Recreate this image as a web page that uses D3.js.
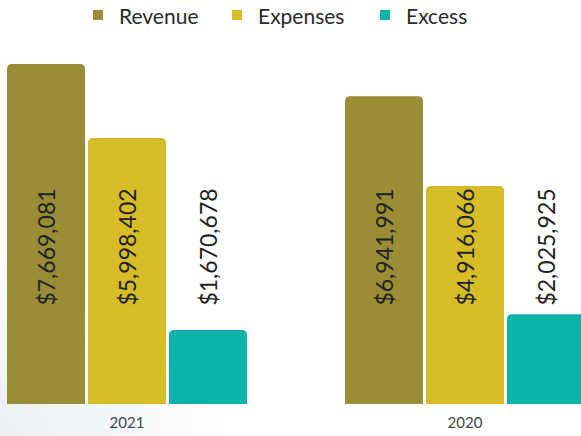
<!DOCTYPE html>
<html>
<head>
<meta charset="utf-8">
<script src="https://cdn.jsdelivr.net/npm/d3@7"></script>
<style>
  html, body { margin: 0; padding: 0; background: #fff; }
  svg { display: block; }
</style>
</head>
<body>
<svg id="chart" width="581" height="436"></svg>
<script>
// Financial summary by fiscal year
const years = ["2021", "2020"];
const seriesNames = ["Revenue", "Expenses", "Excess"];
const revenue = [7669081, 6941991];
const expenses = [5998402, 4916066];
const excess = [1670678, 2025925];
const seriesColors = ["#9b8d35", "#d6bc27", "#0db3a9"];

const values = { Revenue: revenue, Expenses: expenses, Excess: excess };
const rows = years.map((y, i) => ({
  year: y,
  items: seriesNames.map(s => ({ series: s, value: values[s][i] }))
}));

const W = 581, H = 436;
const svg = d3.select("#chart");

// soft tinted backdrop in the lower-left corner
const defs = svg.append("defs");
const grad = defs.append("radialGradient")
  .attr("id", "bgTint").attr("cx", "0%").attr("cy", "100%").attr("r", "40%");
grad.append("stop").attr("offset", "0%").attr("stop-color", "#e9eff3");
grad.append("stop").attr("offset", "100%").attr("stop-color", "#ffffff");
svg.append("rect").attr("width", W).attr("height", H).attr("fill", "url(#bgTint)");

const x0 = d3.scaleBand().domain(years).range([7, 585]).paddingInner(0.29).paddingOuter(0);
const x1 = d3.scaleBand().domain(seriesNames).range([0, x0.bandwidth()]).paddingInner(0.037);
const y = d3.scaleLinear().domain([0, d3.max(revenue)]).range([404, 64]);
const color = d3.scaleOrdinal().domain(seriesNames).range(seriesColors);

// bar with rounded top corners
function topRounded(x, yTop, w, yBase, r) {
  r = Math.min(r, w / 2, (yBase - yTop));
  return `M${x},${yBase}V${yTop + r}Q${x},${yTop} ${x + r},${yTop}` +
         `H${x + w - r}Q${x + w},${yTop} ${x + w},${yTop + r}V${yBase}Z`;
}

const groups = svg.append("g").selectAll("g")
  .data(rows).join("g")
  .attr("transform", d => `translate(${x0(d.year)},0)`);

groups.selectAll("path")
  .data(d => d.items).join("path")
  .attr("d", d => topRounded(x1(d.series), y(d.value), x1.bandwidth(), y(0), 5))
  .attr("fill", d => color(d.series));

const fmt = d3.format("$,");
groups.selectAll("text")
  .data(d => d.items).join("text")
  .attr("transform", d => `translate(${x1(d.series) + x1.bandwidth() / 2},247) rotate(-90)`)
  .attr("text-anchor", "middle")
  .attr("dominant-baseline", "central")
  .attr("font-family", "Lato, sans-serif")
  .attr("font-size", 23)
  .attr("fill", "#222")
  .text(d => fmt(d.value));

// category axis
const axis = svg.append("g")
  .attr("transform", "translate(0,409)")
  .call(d3.axisBottom(x0).tickSize(0).tickPadding(8));
axis.select(".domain").remove();
axis.selectAll("text")
  .attr("font-family", "Lato, sans-serif")
  .attr("font-size", 15)
  .attr("fill", "#444");

// legend
const legendX = [93, 232, 380];
const legend = svg.append("g").selectAll("g")
  .data(seriesNames).join("g")
  .attr("transform", (d, i) => `translate(${legendX[i]},0)`);
legend.append("rect")
  .attr("x", 0).attr("y", 10).attr("width", 10).attr("height", 10)
  .attr("fill", d => color(d));
legend.append("text")
  .attr("x", 26).attr("y", 15)
  .attr("dominant-baseline", "central")
  .attr("font-family", "Lato, sans-serif")
  .attr("font-size", 21)
  .attr("fill", "#2a2a2a")
  .text(d => d);
</script>
</body>
</html>
